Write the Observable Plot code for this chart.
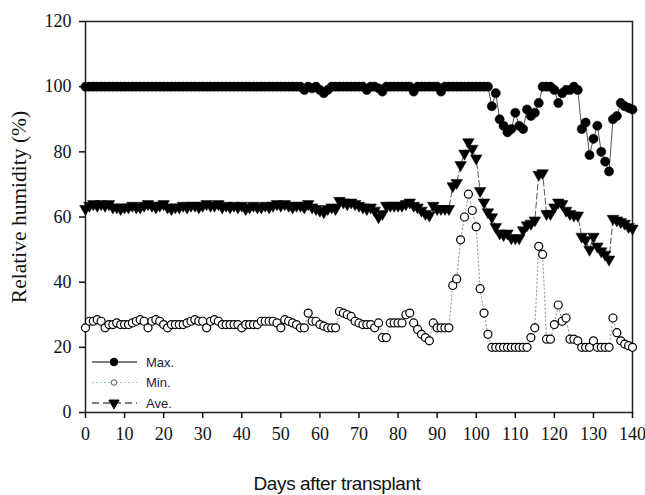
<!DOCTYPE html>
<html>
<head>
<meta charset="utf-8">
<script src="https://cdn.jsdelivr.net/npm/d3@7"></script>
<script src="https://cdn.jsdelivr.net/npm/@observablehq/plot@0.6"></script>
<style>
  html, body { margin: 0; padding: 0; background: #fff; }
  #chart { position: relative; width: 645px; height: 495px; }
</style>
</head>
<body>
<div id="chart"></div>
<script>
// Days after transplant (0..140)
const days = d3.range(0, 141);

const maxRH = [
  100,100,100,100,100,100,100,100,100,100,
  100,100,100,100,100,100,100,100,100,100,
  100,100,100,100,100,100,100,100,100,100,
  100,100,100,100,100,100,100,100,100,100,
  100,100,100,100,100,100,100,100,100,100,
  100,100,100,100,100,100,99,100,99.5,100,
  99,98,99,100,100,100,100,100,100,100,
  100,100,99,100,100,99.5,98.5,100,100,100,
  100,100,100,100,98.5,100,100,100,100,100,
  100,98.5,100,100,100,100,100,100,100,100,
  100,100,100,100,94,98,90,88,86,87,
  92,88,87,93,91,92,95,100,100,100,
  99,95,98,99,99,100,99,87,89,79,
  84,88,80,77,74,90,91,95,94,93.5,
  93
];

const minRH = [
  26,28,28,28.5,28,26,27,27,27.5,27,
  27,27,27.5,28,28.5,28,26,28,28.5,28,
  27,26,27,27,27,27,27.5,28,28.5,28,
  28,26,28,28.5,28,27,27,27,27,27,
  26,27,27,27,27,28,28,28,28,27.5,
  26,28.5,28,27.5,27,26,26,30.5,28,28,
  27,26.5,26,26,26,31,30.5,30,29.5,28,
  27.5,27,27,27,26,27.5,23,23,27.5,27.5,
  27.5,27.5,30,30.5,27.5,25.5,24,23,22,27.5,
  26,26,26,26,39,41,53,60,67,62,
  57,38,30.5,24,20,20,20,20,20,20,
  20,20,20,20,23,26,51,48.5,22.5,22.5,
  27,33,28,29,22.5,22.5,22,20,20,20,
  22,20,20,20,20,29,24.5,22,21,20.5,
  20
];

const aveRH = [
  62.5,63.5,64,63.5,64,63.5,64,63,63,62.5,
  63,63,63.5,63,63,63.5,64,63.5,63,63.5,
  64,63,62.5,63,63,63.5,63,63.5,63.5,63,
  63.5,64,63.5,63.5,64,63,63.5,63,63.5,63,
  63.5,62.5,63,63.5,63,63,63.5,63,63.5,64,
  63.5,64,63.5,63,63.5,63.5,63,64,63,62.5,
  62,61.5,62.5,63,62.5,65,64.5,64,64.5,64,
  63.5,63,62.5,63,62,60,61,63.5,63.5,63.5,
  63.5,63.5,64,64.5,63.5,63,62,61,60.5,63.5,
  62.5,62.5,62.5,62.5,69.5,70.5,76,79.5,83,81,
  78,68,64.5,61.5,60,57,55,54.5,55,53.5,
  53.5,53.5,56,57.5,58,59,73,73.5,61,61,
  63,64.5,64,62,61,60.5,60.5,54,53,50,
  54,51,49.5,48.5,47,59.5,59,58.5,58,57,
  56.5
];

const xTicks = [0,10,20,30,40,50,60,70,80,90,100,110,120,130,140];
const yTicks = [0,20,40,60,80,100,120];
const seriesNames = ["Max.", "Min.", "Ave."];

const rows = days.map((d, i) => ({day: d, max: maxRH[i], min: minRH[i], ave: aveRH[i]}));

const tickFont = "'Liberation Serif', 'Times New Roman', serif";

const plot = Plot.plot({
  width: 645,
  height: 495,
  marginLeft: 85,
  marginRight: 13,
  marginTop: 21,
  marginBottom: 83,
  style: {fontFamily: tickFont, fontSize: "18px", color: "#111", background: "#fff", overflow: "visible"},
  x: {domain: [0, 140], label: null},
  y: {domain: [0, 120], label: null},
  marks: [
    Plot.frame({stroke: "#222", strokeWidth: 1.5}),
    Plot.axisX({ticks: xTicks, tickSize: 6, tickPadding: 9, tickFormat: d => String(d), label: null, fontSize: 18, strokeWidth: 1.5}),
    Plot.axisY({ticks: yTicks, tickSize: 6, tickPadding: 8, tickFormat: d => String(d), label: null, fontSize: 18, strokeWidth: 1.5}),
    Plot.line(rows, {x: "day", y: "max", stroke: "#555", strokeWidth: 1}),
    Plot.line(rows, {x: "day", y: "min", stroke: "#999", strokeWidth: 1, strokeDasharray: "1.5,2.5"}),
    Plot.line(rows, {x: "day", y: "ave", stroke: "#555", strokeWidth: 1, strokeDasharray: "6,3"}),
    Plot.dot(rows, {x: "day", y: "max", r: 4.6, fill: "#000", stroke: "#000", strokeWidth: 0.5}),
    Plot.dot(rows, {x: "day", y: "min", r: 4, fill: "#fff", stroke: "#000", strokeWidth: 1.2}),
    Plot.dot(rows, {x: "day", y: "ave", r: 4.3, symbol: "triangle", rotate: 180, fill: "#000", stroke: "#000", strokeWidth: 0.5})
  ]
});

document.getElementById("chart").appendChild(plot);

const svg = d3.select(plot);

// Axis titles
svg.append("text")
  .attr("transform", "translate(19,207) rotate(-90)")
  .attr("text-anchor", "middle")
  .attr("dominant-baseline", "central")
  .attr("font-family", tickFont)
  .attr("font-size", 21.5)
  .attr("fill", "#111")
  .text("Relative humidity (%)");

svg.append("text")
  .attr("x", 337)
  .attr("y", 490)
  .attr("text-anchor", "middle")
  .attr("font-family", "'Liberation Sans', Arial, sans-serif")
  .attr("font-size", 19)
  .attr("letter-spacing", "-0.4")
  .attr("fill", "#111")
  .text("Days after transplant");

// Legend
const legend = svg.append("g")
  .attr("font-family", "'Liberation Sans', Arial, sans-serif")
  .attr("font-size", 13)
  .attr("text-anchor", "start");
const legendStyles = [
  {stroke: "#000", dash: null, symbol: d3.symbolCircle, size: 45, fill: "#000", mstroke: "#000"},
  {stroke: "#7fbfae", dash: "1.5,2.5", symbol: d3.symbolCircle, size: 24, fill: "#fff", mstroke: "#555"},
  {stroke: "#000", dash: "7,4", symbol: d3.symbolTriangle, size: 45, fill: "#000", mstroke: "#000", rotate: 180}
];
seriesNames.forEach((name, i) => {
  const y = 362 + i * 20.5;
  const s = legendStyles[i];
  legend.append("line")
    .attr("x1", 92).attr("x2", 137).attr("y1", y).attr("y2", y)
    .attr("stroke", s.stroke).attr("stroke-width", 1.2)
    .attr("stroke-dasharray", s.dash);
  legend.append("path")
    .attr("d", d3.symbol(s.symbol, s.size)())
    .attr("transform", `translate(114,${y})` + (s.rotate ? ` rotate(${s.rotate})` : ""))
    .attr("fill", s.fill).attr("stroke", s.mstroke).attr("stroke-width", 1);
  legend.append("text")
    .attr("x", 146).attr("y", y)
    .attr("text-anchor", "start")
    .attr("dominant-baseline", "central")
    .attr("fill", "#1a1a3a")
    .text(name);
});
</script>
</body>
</html>
